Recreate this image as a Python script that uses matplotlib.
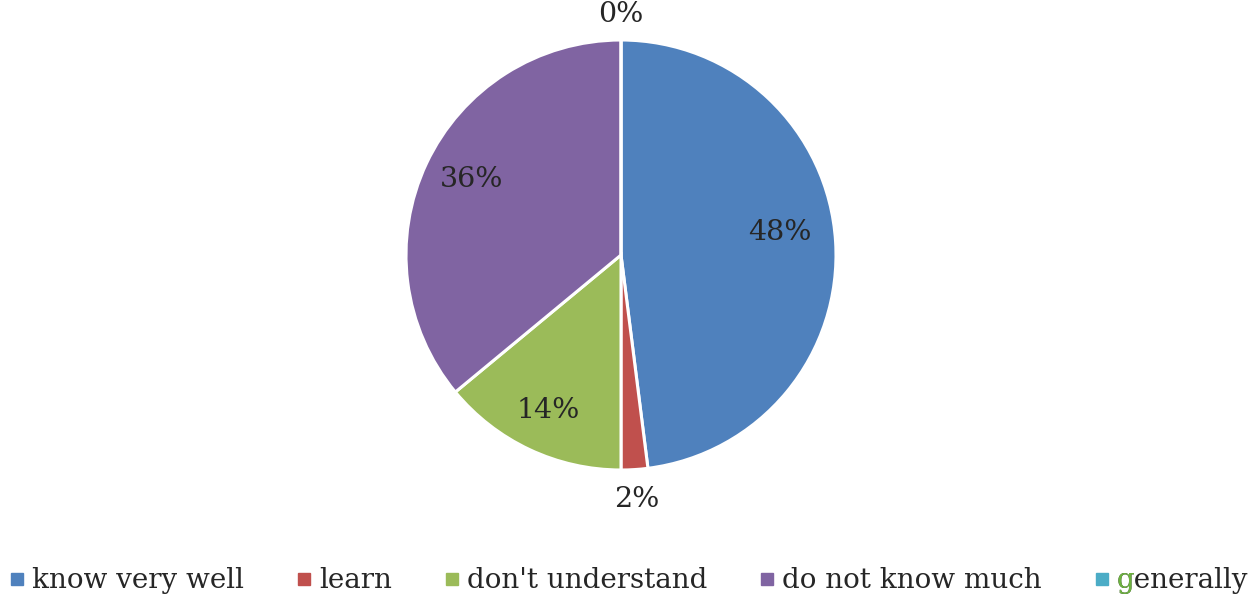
import matplotlib
matplotlib.use("Agg")
import matplotlib.pyplot as plt
from matplotlib.lines import Line2D
import numpy as np

categories = ["know very well", "learn", "don't understand", "do not know much", "generally"]
values = [48, 2, 14, 36, 0]
labels = ["48%", "2%", "14%", "36%", "0%"]
colors = ["#4F81BD", "#C0504D", "#9BBB59", "#8064A2", "#4BACC6"]

FONT = "DejaVu Serif"
plt.rcParams["font.family"] = FONT

fig = plt.figure(figsize=(12.53, 5.99), dpi=100)
r_px = 215
cx, cy = 621, 255
W, H = 1253, 599
ax = fig.add_axes([(cx - r_px) / W, (H - cy - r_px) / H, 2 * r_px / W, 2 * r_px / H])
wedges, _ = ax.pie(values, colors=colors, startangle=90, counterclock=False,
                   wedgeprops=dict(edgecolor="white", linewidth=2.2), radius=1)
ax.set_xlim(-1, 1)
ax.set_ylim(-1, 1)
ax.set_aspect("equal")
ax.axis("off")

cum = 0
dists = [0.745, 1.14, 0.80, 0.78, 1.12]
angle_shift = [4.5, 0, 0, -1.5, 0]
for v, lab, d, s in zip(values, labels, dists, angle_shift):
    mid = 90 - (cum + v / 2) / 100 * 360 + s
    cum += v
    a = np.deg2rad(mid)
    ax.text(d * np.cos(a), d * np.sin(a), lab, ha="center", va="center",
            fontsize=20.5, color="#262626", clip_on=False)

handles = [Line2D([], [], marker="s", linestyle="none", markersize=9, color=c) for c in colors]
leg = fig.legend(handles, categories, loc="center", bbox_to_anchor=(0.502, 1 - 581 / H), ncol=5,
                 frameon=False, fontsize=20, handlelength=0.5, handletextpad=0.3,
                 columnspacing=1.9, borderaxespad=0, labelcolor="#262626")
fig.canvas.draw()
t = leg.get_texts()[-1]
g = fig.text(0, 0, "g", color="#6DB33F", fontproperties=t.get_fontproperties(), zorder=20)
g.set_transform(t.get_transform())
g.set_position(t.get_position())
g.set_ha(t.get_ha())
g.set_va(t.get_va())
fig.savefig("out.png", dpi=100)
